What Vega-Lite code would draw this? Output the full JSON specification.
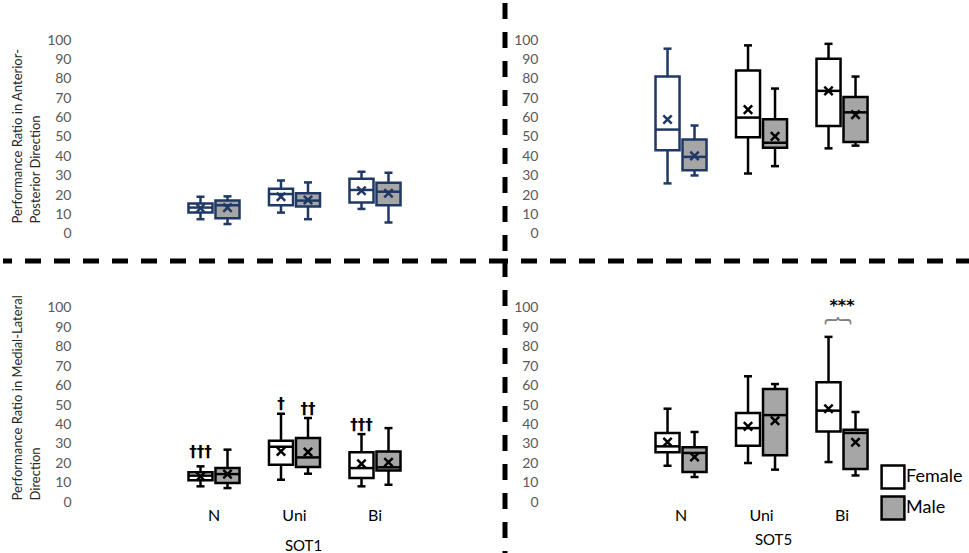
{
  "$schema": "https://vega.github.io/schema/vega-lite/v6.json",
  "padding": 0,
  "spacing": 0,
  "columns": 2,
  "bounds": "flush",
  "config": {
    "font": "Lato",
    "view": {"stroke": null},
    "axis": {"labelFont": "Lato", "titleFont": "Lato", "labelOverlap": false},
    "legend": {"labelFont": "Lato"}
  },
  "datasets": {
    "boxes": [
      {"panel": "AP1", "cond": "N", "sex": "Female", "min": 7.5, "q1": 10.9, "median": 13.5, "q3": 15.6, "max": 19.1, "mean": 13.2},
      {"panel": "AP1", "cond": "N", "sex": "Male", "min": 5.0, "q1": 8.0, "median": 14.7, "q3": 17.1, "max": 19.3, "mean": 13.5},
      {"panel": "AP1", "cond": "Uni", "sex": "Female", "min": 10.9, "q1": 14.7, "median": 20.5, "q3": 23.2, "max": 27.5, "mean": 19.1},
      {"panel": "AP1", "cond": "Uni", "sex": "Male", "min": 7.5, "q1": 14.0, "median": 17.1, "q3": 20.9, "max": 26.5, "mean": 17.4},
      {"panel": "AP1", "cond": "Bi", "sex": "Female", "min": 12.8, "q1": 16.1, "median": 22.6, "q3": 28.4, "max": 32.0, "mean": 22.2},
      {"panel": "AP1", "cond": "Bi", "sex": "Male", "min": 5.8, "q1": 14.7, "median": 21.7, "q3": 26.3, "max": 31.5, "mean": 20.9},
      {"panel": "AP5", "cond": "N", "sex": "Female", "min": 26.0, "q1": 43.1, "median": 53.8, "q3": 81.2, "max": 95.6, "mean": 59.0},
      {"panel": "AP5", "cond": "N", "sex": "Male", "min": 30.1, "q1": 32.8, "median": 39.7, "q3": 48.7, "max": 55.9, "mean": 40.2},
      {"panel": "AP5", "cond": "Uni", "sex": "Female", "min": 31.1, "q1": 49.9, "median": 60.0, "q3": 84.3, "max": 97.3, "mean": 64.1},
      {"panel": "AP5", "cond": "Uni", "sex": "Male", "min": 34.9, "q1": 44.4, "median": 47.0, "q3": 59.1, "max": 75.0, "mean": 50.3},
      {"panel": "AP5", "cond": "Bi", "sex": "Female", "min": 44.1, "q1": 55.6, "median": 73.8, "q3": 90.4, "max": 98.1, "mean": 73.8},
      {"panel": "AP5", "cond": "Bi", "sex": "Male", "min": 45.5, "q1": 47.4, "median": 62.7, "q3": 70.6, "max": 81.2, "mean": 61.5},
      {"panel": "ML1", "cond": "N", "sex": "Female", "min": 8.1, "q1": 11.2, "median": 13.6, "q3": 15.3, "max": 18.4, "mean": 13.2},
      {"panel": "ML1", "cond": "N", "sex": "Male", "min": 7.2, "q1": 9.8, "median": 14.4, "q3": 17.5, "max": 27.0, "mean": 14.4},
      {"panel": "ML1", "cond": "Uni", "sex": "Female", "min": 11.5, "q1": 19.2, "median": 28.5, "q3": 31.6, "max": 45.5, "mean": 26.1},
      {"panel": "ML1", "cond": "Uni", "sex": "Male", "min": 14.6, "q1": 18.0, "median": 23.0, "q3": 33.0, "max": 43.3, "mean": 25.8},
      {"panel": "ML1", "cond": "Bi", "sex": "Female", "min": 8.1, "q1": 12.4, "median": 17.5, "q3": 25.6, "max": 35.0, "mean": 19.7},
      {"panel": "ML1", "cond": "Bi", "sex": "Male", "min": 8.9, "q1": 16.3, "median": 17.9, "q3": 26.1, "max": 38.1, "mean": 20.5},
      {"panel": "ML5", "cond": "N", "sex": "Female", "min": 18.7, "q1": 25.6, "median": 28.7, "q3": 35.6, "max": 48.1, "mean": 30.9},
      {"panel": "ML5", "cond": "N", "sex": "Male", "min": 12.9, "q1": 15.5, "median": 25.3, "q3": 28.2, "max": 36.1, "mean": 23.2},
      {"panel": "ML5", "cond": "Uni", "sex": "Female", "min": 20.1, "q1": 29.0, "median": 38.1, "q3": 45.9, "max": 64.8, "mean": 39.0},
      {"panel": "ML5", "cond": "Uni", "sex": "Male", "min": 16.7, "q1": 24.1, "median": 44.8, "q3": 58.2, "max": 60.8, "mean": 41.9},
      {"panel": "ML5", "cond": "Bi", "sex": "Female", "min": 20.6, "q1": 36.3, "median": 47.1, "q3": 61.7, "max": 85.1, "mean": 48.1},
      {"panel": "ML5", "cond": "Bi", "sex": "Male", "min": 13.7, "q1": 17.0, "median": 35.6, "q3": 37.3, "max": 46.4, "mean": 30.8}
    ],
    "notes": [
      {"panel": "ML1", "cond": "N", "sex": "Female", "label": "†††", "y": 25.6},
      {"panel": "ML1", "cond": "Uni", "sex": "Female", "label": "†", "y": 50.7},
      {"panel": "ML1", "cond": "Uni", "sex": "Male", "label": "††", "y": 47.9},
      {"panel": "ML1", "cond": "Bi", "sex": "Female", "label": "†††", "y": 39.5}
    ],
    "sig": [
      {"panel": "ML5", "cond": "Bi", "label": "***", "y": 101}
    ],
    "brace": [
      {"panel": "ML5", "cond": "Bi", "label": "︷", "y": 97}
    ]
  },
  "resolve": {"scale": {"fill": "independent"}, "legend": {"fill": "independent"}},
  "concat": [
    {
      "width": 502,
      "height": 258,
      "resolve": {"scale": {"x": "independent"}},
      "layer": [
        {
          "data": {"name": "boxes"},
          "transform": [{"filter": "datum.panel == 'AP1'"}],
          "encoding": {
            "x": {"field": "cond", "type": "nominal", "scale": {"domain": ["p0", "N", "Uni", "Bi", "p4"], "paddingInner": 0, "paddingOuter": 0.618, "align": 0.907}, "axis": null},
            "xOffset": {"field": "sex", "type": "nominal", "scale": {"domain": ["Female", "Male"], "paddingInner": 0.11, "paddingOuter": 0.546}}
          },
          "layer": [
            {
              "mark": {"type": "rule", "strokeWidth": 2.5},
              "encoding": {
                "y": {"field": "min", "type": "quantitative", "scale": {"domain": [-14.1, 119.2], "nice": false, "zero": false},
                  "axis": {"values": [0, 10, 20, 30, 40, 50, 60, 70, 80, 90, 100], "labelOverlap": false, "offset": -80, "domain": false, "ticks": false, "grid": false, "labelPadding": 12, "labelFontSize": 14, "labelColor": "#595959", "title": ["Performance Ratio in Anterior-", "Posterior Direction"], "titleAngle": 270, "titleAlign": "left", "titleBaseline": "top", "titleX": -72, "titleY": 220, "titleFontSize": 13, "titleFontWeight": "normal", "titleColor": "#262626", "titleLineHeight": 18}},
                "y2": {"field": "max"},
                "color": {"value": "#1F3864"}
              }
            },
            {
              "mark": {"type": "bar", "strokeWidth": 2.5},
              "encoding": {
                "y": {"field": "q1", "type": "quantitative", "axis": {"values": [0, 10, 20, 30, 40, 50, 60, 70, 80, 90, 100], "labelOverlap": false, "offset": -80, "domain": false, "ticks": false, "grid": false, "labelPadding": 12, "labelFontSize": 14, "labelColor": "#595959", "title": ["Performance Ratio in Anterior-", "Posterior Direction"], "titleAngle": 270, "titleAlign": "left", "titleBaseline": "top", "titleX": -72, "titleY": 220, "titleFontSize": 13, "titleFontWeight": "normal", "titleColor": "#262626", "titleLineHeight": 18}},
                "y2": {"field": "q3"},
                "fill": {"field": "sex", "type": "nominal", "scale": {"domain": ["Female", "Male"], "range": ["#FFFFFF", "#A6A6A6"]}, "legend": null},
                "stroke": {"value": "#1F3864"}
              }
            },
            {
              "mark": {"type": "tick", "orient": "horizontal", "size": 24, "thickness": 2.5, "opacity": 1},
              "encoding": {"y": {"field": "median", "type": "quantitative", "axis": {"values": [0, 10, 20, 30, 40, 50, 60, 70, 80, 90, 100], "labelOverlap": false, "offset": -80, "domain": false, "ticks": false, "grid": false, "labelPadding": 12, "labelFontSize": 14, "labelColor": "#595959", "title": ["Performance Ratio in Anterior-", "Posterior Direction"], "titleAngle": 270, "titleAlign": "left", "titleBaseline": "top", "titleX": -72, "titleY": 220, "titleFontSize": 13, "titleFontWeight": "normal", "titleColor": "#262626", "titleLineHeight": 18}}, "color": {"value": "#1F3864"}}
            },
            {
              "mark": {"type": "tick", "orient": "horizontal", "size": 8, "thickness": 2.5, "opacity": 1},
              "encoding": {"y": {"field": "min", "type": "quantitative", "axis": {"values": [0, 10, 20, 30, 40, 50, 60, 70, 80, 90, 100], "labelOverlap": false, "offset": -80, "domain": false, "ticks": false, "grid": false, "labelPadding": 12, "labelFontSize": 14, "labelColor": "#595959", "title": ["Performance Ratio in Anterior-", "Posterior Direction"], "titleAngle": 270, "titleAlign": "left", "titleBaseline": "top", "titleX": -72, "titleY": 220, "titleFontSize": 13, "titleFontWeight": "normal", "titleColor": "#262626", "titleLineHeight": 18}}, "color": {"value": "#1F3864"}}
            },
            {
              "mark": {"type": "tick", "orient": "horizontal", "size": 8, "thickness": 2.5, "opacity": 1},
              "encoding": {"y": {"field": "max", "type": "quantitative", "axis": {"values": [0, 10, 20, 30, 40, 50, 60, 70, 80, 90, 100], "labelOverlap": false, "offset": -80, "domain": false, "ticks": false, "grid": false, "labelPadding": 12, "labelFontSize": 14, "labelColor": "#595959", "title": ["Performance Ratio in Anterior-", "Posterior Direction"], "titleAngle": 270, "titleAlign": "left", "titleBaseline": "top", "titleX": -72, "titleY": 220, "titleFontSize": 13, "titleFontWeight": "normal", "titleColor": "#262626", "titleLineHeight": 18}}, "color": {"value": "#1F3864"}}
            },
            {
              "mark": {"type": "point", "shape": "M-1,-1L1,1M1,-1L-1,1", "filled": false, "size": 70, "strokeWidth": 2.5, "opacity": 1},
              "encoding": {"y": {"field": "mean", "type": "quantitative", "axis": {"values": [0, 10, 20, 30, 40, 50, 60, 70, 80, 90, 100], "labelOverlap": false, "offset": -80, "domain": false, "ticks": false, "grid": false, "labelPadding": 12, "labelFontSize": 14, "labelColor": "#595959", "title": ["Performance Ratio in Anterior-", "Posterior Direction"], "titleAngle": 270, "titleAlign": "left", "titleBaseline": "top", "titleX": -72, "titleY": 220, "titleFontSize": 13, "titleFontWeight": "normal", "titleColor": "#262626", "titleLineHeight": 18}}, "color": {"value": "#1F3864"}}
            }
          ]
        },
        {
          "data": {"values": [{"divider": "horizontal"}]},
          "mark": {"type": "rule", "strokeDash": [16, 13], "strokeWidth": 5, "color": "black"},
          "encoding": {"y": {"datum": -14.1, "type": "quantitative", "axis": {"values": [0, 10, 20, 30, 40, 50, 60, 70, 80, 90, 100], "labelOverlap": false, "offset": -80, "domain": false, "ticks": false, "grid": false, "labelPadding": 12, "labelFontSize": 14, "labelColor": "#595959", "title": ["Performance Ratio in Anterior-", "Posterior Direction"], "titleAngle": 270, "titleAlign": "left", "titleBaseline": "top", "titleX": -72, "titleY": 220, "titleFontSize": 13, "titleFontWeight": "normal", "titleColor": "#262626", "titleLineHeight": 18}}}
        },
        {
          "data": {"values": [{"divider": "vertical"}]},
          "mark": {"type": "rule", "strokeDash": [16, 13], "strokeWidth": 5, "color": "black"},
          "encoding": {"x": {"datum": 1, "type": "quantitative", "scale": {"domain": [0, 1]}, "axis": null}}
        }
      ]
    },
    {
      "width": 467,
      "height": 258,
      "layer": [
        {
          "data": {"name": "boxes"},
          "transform": [{"filter": "datum.panel == 'AP5'"}],
          "encoding": {
            "x": {"field": "cond", "type": "nominal", "scale": {"domain": ["p0", "N", "Uni", "Bi", "p4"], "paddingInner": 0, "paddingOuter": 0.4006, "align": 0.857}, "axis": null},
            "xOffset": {"field": "sex", "type": "nominal", "scale": {"domain": ["Female", "Male"], "paddingInner": 0.11, "paddingOuter": 0.546}}
          },
          "layer": [
            {
              "mark": {"type": "rule", "strokeWidth": 2.5},
              "encoding": {
                "y": {"field": "min", "type": "quantitative", "scale": {"domain": [-14.1, 119.2], "nice": false, "zero": false},
                  "axis": {"values": [0, 10, 20, 30, 40, 50, 60, 70, 80, 90, 100], "labelOverlap": false, "offset": -46, "domain": false, "ticks": false, "grid": false, "labelPadding": 13, "labelFontSize": 14, "labelColor": "#595959", "title": null}},
                "y2": {"field": "max"},
                "color": {"condition": {"test": "datum.cond == 'N'", "value": "#1F3864"}, "value": "black"}
              }
            },
            {
              "mark": {"type": "bar", "strokeWidth": 2.5},
              "encoding": {
                "y": {"field": "q1", "type": "quantitative", "axis": {"values": [0, 10, 20, 30, 40, 50, 60, 70, 80, 90, 100], "labelOverlap": false, "offset": -46, "domain": false, "ticks": false, "grid": false, "labelPadding": 13, "labelFontSize": 14, "labelColor": "#595959", "title": null}},
                "y2": {"field": "q3"},
                "fill": {"field": "sex", "type": "nominal", "scale": {"domain": ["Female", "Male"], "range": ["#FFFFFF", "#A6A6A6"]}, "legend": null},
                "stroke": {"condition": {"test": "datum.cond == 'N'", "value": "#1F3864"}, "value": "black"}
              }
            },
            {
              "mark": {"type": "tick", "orient": "horizontal", "size": 24, "thickness": 2.5, "opacity": 1},
              "encoding": {"y": {"field": "median", "type": "quantitative", "axis": {"values": [0, 10, 20, 30, 40, 50, 60, 70, 80, 90, 100], "labelOverlap": false, "offset": -46, "domain": false, "ticks": false, "grid": false, "labelPadding": 13, "labelFontSize": 14, "labelColor": "#595959", "title": null}}, "color": {"condition": {"test": "datum.cond == 'N'", "value": "#1F3864"}, "value": "black"}}
            },
            {
              "mark": {"type": "tick", "orient": "horizontal", "size": 8, "thickness": 2.5, "opacity": 1},
              "encoding": {"y": {"field": "min", "type": "quantitative", "axis": {"values": [0, 10, 20, 30, 40, 50, 60, 70, 80, 90, 100], "labelOverlap": false, "offset": -46, "domain": false, "ticks": false, "grid": false, "labelPadding": 13, "labelFontSize": 14, "labelColor": "#595959", "title": null}}, "color": {"condition": {"test": "datum.cond == 'N'", "value": "#1F3864"}, "value": "black"}}
            },
            {
              "mark": {"type": "tick", "orient": "horizontal", "size": 8, "thickness": 2.5, "opacity": 1},
              "encoding": {"y": {"field": "max", "type": "quantitative", "axis": {"values": [0, 10, 20, 30, 40, 50, 60, 70, 80, 90, 100], "labelOverlap": false, "offset": -46, "domain": false, "ticks": false, "grid": false, "labelPadding": 13, "labelFontSize": 14, "labelColor": "#595959", "title": null}}, "color": {"condition": {"test": "datum.cond == 'N'", "value": "#1F3864"}, "value": "black"}}
            },
            {
              "mark": {"type": "point", "shape": "M-1,-1L1,1M1,-1L-1,1", "filled": false, "size": 70, "strokeWidth": 2.5, "opacity": 1},
              "encoding": {"y": {"field": "mean", "type": "quantitative", "axis": {"values": [0, 10, 20, 30, 40, 50, 60, 70, 80, 90, 100], "labelOverlap": false, "offset": -46, "domain": false, "ticks": false, "grid": false, "labelPadding": 13, "labelFontSize": 14, "labelColor": "#595959", "title": null}}, "color": {"condition": {"test": "datum.cond == 'N'", "value": "#1F3864"}, "value": "black"}}
            }
          ]
        },
        {
          "data": {"values": [{"divider": "horizontal"}]},
          "mark": {"type": "rule", "strokeDash": [16, 13], "strokeWidth": 5, "color": "black"},
          "encoding": {"y": {"datum": -14.1, "type": "quantitative", "axis": {"values": [0, 10, 20, 30, 40, 50, 60, 70, 80, 90, 100], "labelOverlap": false, "offset": -46, "domain": false, "ticks": false, "grid": false, "labelPadding": 13, "labelFontSize": 14, "labelColor": "#595959", "title": null}}}
        }
      ]
    },
    {
      "width": 502,
      "height": 295,
      "resolve": {"scale": {"x": "independent"}},
      "layer": [
        {
          "encoding": {
            "x": {"field": "cond", "type": "nominal", "scale": {"domain": ["p0", "N", "Uni", "Bi", "p4"], "paddingInner": 0, "paddingOuter": 0.618, "align": 0.907},
              "axis": {"values": ["N", "Uni", "Bi"], "orient": "bottom", "offset": -54, "domain": false, "ticks": false, "labelPadding": 5, "labelFontSize": 16, "labelColor": "black", "labelAngle": 0, "title": "SOT1", "titleFontSize": 15, "titleFontWeight": "normal", "titleColor": "black", "titleX": 300, "titleY": 43, "titleBaseline": "middle", "titleAlign": "center"}},
            "xOffset": {"field": "sex", "type": "nominal", "scale": {"domain": ["Female", "Male"], "paddingInner": 0.11, "paddingOuter": 0.546}}
          },
          "layer": [
            {
              "data": {"name": "boxes"},
              "transform": [{"filter": "datum.panel == 'ML1'"}],
              "layer": [
                {
                  "mark": {"type": "rule", "strokeWidth": 2.5},
                  "encoding": {
                    "y": {"field": "min", "type": "quantitative", "scale": {"domain": [-27.8, 124.2], "nice": false, "zero": false},
                      "axis": {"values": [0, 10, 20, 30, 40, 50, 60, 70, 80, 90, 100], "labelOverlap": false, "offset": -80, "domain": false, "ticks": false, "grid": false, "labelPadding": 12, "labelFontSize": 14, "labelColor": "#595959", "title": ["Performance Ratio in Medial-Lateral", "Direction"], "titleAngle": 270, "titleAlign": "left", "titleBaseline": "top", "titleX": -72, "titleY": 239, "titleFontSize": 13, "titleFontWeight": "normal", "titleColor": "#262626", "titleLineHeight": 18}},
                    "y2": {"field": "max"},
                    "color": {"value": "black"}
                  }
                },
                {
                  "mark": {"type": "bar", "strokeWidth": 2.5},
                  "encoding": {
                    "y": {"field": "q1", "type": "quantitative", "axis": {"values": [0, 10, 20, 30, 40, 50, 60, 70, 80, 90, 100], "labelOverlap": false, "offset": -80, "domain": false, "ticks": false, "grid": false, "labelPadding": 12, "labelFontSize": 14, "labelColor": "#595959", "title": ["Performance Ratio in Medial-Lateral", "Direction"], "titleAngle": 270, "titleAlign": "left", "titleBaseline": "top", "titleX": -72, "titleY": 239, "titleFontSize": 13, "titleFontWeight": "normal", "titleColor": "#262626", "titleLineHeight": 18}},
                    "y2": {"field": "q3"},
                    "fill": {"field": "sex", "type": "nominal", "scale": {"domain": ["Female", "Male"], "range": ["#FFFFFF", "#A6A6A6"]}, "legend": null},
                    "stroke": {"value": "black"}
                  }
                },
                {
                  "mark": {"type": "tick", "orient": "horizontal", "size": 24, "thickness": 2.5, "opacity": 1},
                  "encoding": {"y": {"field": "median", "type": "quantitative", "axis": {"values": [0, 10, 20, 30, 40, 50, 60, 70, 80, 90, 100], "labelOverlap": false, "offset": -80, "domain": false, "ticks": false, "grid": false, "labelPadding": 12, "labelFontSize": 14, "labelColor": "#595959", "title": ["Performance Ratio in Medial-Lateral", "Direction"], "titleAngle": 270, "titleAlign": "left", "titleBaseline": "top", "titleX": -72, "titleY": 239, "titleFontSize": 13, "titleFontWeight": "normal", "titleColor": "#262626", "titleLineHeight": 18}}, "color": {"value": "black"}}
                },
                {
                  "mark": {"type": "tick", "orient": "horizontal", "size": 8, "thickness": 2.5, "opacity": 1},
                  "encoding": {"y": {"field": "min", "type": "quantitative", "axis": {"values": [0, 10, 20, 30, 40, 50, 60, 70, 80, 90, 100], "labelOverlap": false, "offset": -80, "domain": false, "ticks": false, "grid": false, "labelPadding": 12, "labelFontSize": 14, "labelColor": "#595959", "title": ["Performance Ratio in Medial-Lateral", "Direction"], "titleAngle": 270, "titleAlign": "left", "titleBaseline": "top", "titleX": -72, "titleY": 239, "titleFontSize": 13, "titleFontWeight": "normal", "titleColor": "#262626", "titleLineHeight": 18}}, "color": {"value": "black"}}
                },
                {
                  "mark": {"type": "tick", "orient": "horizontal", "size": 8, "thickness": 2.5, "opacity": 1},
                  "encoding": {"y": {"field": "max", "type": "quantitative", "axis": {"values": [0, 10, 20, 30, 40, 50, 60, 70, 80, 90, 100], "labelOverlap": false, "offset": -80, "domain": false, "ticks": false, "grid": false, "labelPadding": 12, "labelFontSize": 14, "labelColor": "#595959", "title": ["Performance Ratio in Medial-Lateral", "Direction"], "titleAngle": 270, "titleAlign": "left", "titleBaseline": "top", "titleX": -72, "titleY": 239, "titleFontSize": 13, "titleFontWeight": "normal", "titleColor": "#262626", "titleLineHeight": 18}}, "color": {"value": "black"}}
                },
                {
                  "mark": {"type": "point", "shape": "M-1,-1L1,1M1,-1L-1,1", "filled": false, "size": 70, "strokeWidth": 2.5, "opacity": 1},
                  "encoding": {"y": {"field": "mean", "type": "quantitative", "axis": {"values": [0, 10, 20, 30, 40, 50, 60, 70, 80, 90, 100], "labelOverlap": false, "offset": -80, "domain": false, "ticks": false, "grid": false, "labelPadding": 12, "labelFontSize": 14, "labelColor": "#595959", "title": ["Performance Ratio in Medial-Lateral", "Direction"], "titleAngle": 270, "titleAlign": "left", "titleBaseline": "top", "titleX": -72, "titleY": 239, "titleFontSize": 13, "titleFontWeight": "normal", "titleColor": "#262626", "titleLineHeight": 18}}, "color": {"value": "black"}}
                }
              ]
            },
            {
              "data": {"name": "notes"},
              "transform": [{"filter": "datum.panel == 'ML1'"}],
              "mark": {"type": "text", "fontSize": 15, "fontWeight": "bold", "fill": "black", "baseline": "middle", "font": "DejaVu Sans"},
              "encoding": {"y": {"field": "y", "type": "quantitative", "axis": {"values": [0, 10, 20, 30, 40, 50, 60, 70, 80, 90, 100], "labelOverlap": false, "offset": -80, "domain": false, "ticks": false, "grid": false, "labelPadding": 12, "labelFontSize": 14, "labelColor": "#595959", "title": ["Performance Ratio in Medial-Lateral", "Direction"], "titleAngle": 270, "titleAlign": "left", "titleBaseline": "top", "titleX": -72, "titleY": 239, "titleFontSize": 13, "titleFontWeight": "normal", "titleColor": "#262626", "titleLineHeight": 18}}, "text": {"field": "label"}}
            }
          ]
        },
        {
          "data": {"values": [{"divider": "vertical"}]},
          "mark": {"type": "rule", "strokeDash": [16, 13], "strokeWidth": 5, "color": "black"},
          "encoding": {"x": {"datum": 1, "type": "quantitative", "scale": {"domain": [0, 1]}, "axis": null}}
        }
      ]
    },
    {
      "width": 467,
      "height": 295,
      "encoding": {
        "x": {"field": "cond", "type": "nominal", "scale": {"domain": ["p0", "N", "Uni", "Bi", "p4"], "paddingInner": 0, "paddingOuter": 0.4006, "align": 0.857},
          "axis": {"values": ["N", "Uni", "Bi"], "orient": "bottom", "offset": -54, "domain": false, "ticks": false, "labelPadding": 5, "labelFontSize": 16, "labelColor": "black", "labelAngle": 0, "title": "SOT5", "titleFontSize": 15, "titleFontWeight": "normal", "titleColor": "black", "titleX": 268, "titleY": 37, "titleBaseline": "middle", "titleAlign": "center"}}
      },
      "layer": [
        {
          "data": {"name": "boxes"},
          "transform": [{"filter": "datum.panel == 'ML5'"}],
          "encoding": {
            "xOffset": {"field": "sex", "type": "nominal", "scale": {"domain": ["Female", "Male"], "paddingInner": 0.11, "paddingOuter": 0.546}}
          },
          "layer": [
            {
              "mark": {"type": "rule", "strokeWidth": 2.5},
              "encoding": {
                "y": {"field": "min", "type": "quantitative", "scale": {"domain": [-27.8, 124.2], "nice": false, "zero": false},
                  "axis": {"values": [0, 10, 20, 30, 40, 50, 60, 70, 80, 90, 100], "labelOverlap": false, "offset": -46, "domain": false, "ticks": false, "grid": false, "labelPadding": 13, "labelFontSize": 14, "labelColor": "#595959", "title": null}},
                "y2": {"field": "max"},
                "color": {"value": "black"}
              }
            },
            {
              "mark": {"type": "bar", "strokeWidth": 2.5},
              "encoding": {
                "y": {"field": "q1", "type": "quantitative", "axis": {"values": [0, 10, 20, 30, 40, 50, 60, 70, 80, 90, 100], "labelOverlap": false, "offset": -46, "domain": false, "ticks": false, "grid": false, "labelPadding": 13, "labelFontSize": 14, "labelColor": "#595959", "title": null}},
                "y2": {"field": "q3"},
                "fill": {"field": "sex", "type": "nominal", "scale": {"domain": ["Female", "Male"], "range": ["#FFFFFF", "#A6A6A6"]},
                  "legend": {"orient": "none", "legendX": 375, "legendY": 203, "title": null, "symbolType": "square", "symbolSize": 520, "symbolStrokeColor": "black", "symbolStrokeWidth": 2.5, "symbolOpacity": 1, "labelFontSize": 18, "labelColor": "black", "labelOffset": 0, "rowPadding": -3, "padding": 0}},
                "stroke": {"value": "black"}
              }
            },
            {
              "mark": {"type": "tick", "orient": "horizontal", "size": 24, "thickness": 2.5, "opacity": 1},
              "encoding": {"y": {"field": "median", "type": "quantitative", "axis": {"values": [0, 10, 20, 30, 40, 50, 60, 70, 80, 90, 100], "labelOverlap": false, "offset": -46, "domain": false, "ticks": false, "grid": false, "labelPadding": 13, "labelFontSize": 14, "labelColor": "#595959", "title": null}}, "color": {"value": "black"}}
            },
            {
              "mark": {"type": "tick", "orient": "horizontal", "size": 8, "thickness": 2.5, "opacity": 1},
              "encoding": {"y": {"field": "min", "type": "quantitative", "axis": {"values": [0, 10, 20, 30, 40, 50, 60, 70, 80, 90, 100], "labelOverlap": false, "offset": -46, "domain": false, "ticks": false, "grid": false, "labelPadding": 13, "labelFontSize": 14, "labelColor": "#595959", "title": null}}, "color": {"value": "black"}}
            },
            {
              "mark": {"type": "tick", "orient": "horizontal", "size": 8, "thickness": 2.5, "opacity": 1},
              "encoding": {"y": {"field": "max", "type": "quantitative", "axis": {"values": [0, 10, 20, 30, 40, 50, 60, 70, 80, 90, 100], "labelOverlap": false, "offset": -46, "domain": false, "ticks": false, "grid": false, "labelPadding": 13, "labelFontSize": 14, "labelColor": "#595959", "title": null}}, "color": {"value": "black"}}
            },
            {
              "mark": {"type": "point", "shape": "M-1,-1L1,1M1,-1L-1,1", "filled": false, "size": 70, "strokeWidth": 2.5, "opacity": 1},
              "encoding": {"y": {"field": "mean", "type": "quantitative", "axis": {"values": [0, 10, 20, 30, 40, 50, 60, 70, 80, 90, 100], "labelOverlap": false, "offset": -46, "domain": false, "ticks": false, "grid": false, "labelPadding": 13, "labelFontSize": 14, "labelColor": "#595959", "title": null}}, "color": {"value": "black"}}
            }
          ]
        },
        {
          "data": {"name": "sig"},
          "mark": {"type": "text", "fontSize": 16, "fontWeight": "bold", "fill": "black", "baseline": "middle", "font": "DejaVu Sans"},
          "encoding": {"y": {"field": "y", "type": "quantitative", "axis": {"values": [0, 10, 20, 30, 40, 50, 60, 70, 80, 90, 100], "labelOverlap": false, "offset": -46, "domain": false, "ticks": false, "grid": false, "labelPadding": 13, "labelFontSize": 14, "labelColor": "#595959", "title": null}}, "text": {"field": "label"}}
        },
        {
          "data": {"name": "brace"},
          "mark": {"type": "text", "fontSize": 28, "fill": "#808080", "baseline": "middle", "font": "Noto Sans CJK SC", "dx": -4},
          "encoding": {"y": {"field": "y", "type": "quantitative", "axis": {"values": [0, 10, 20, 30, 40, 50, 60, 70, 80, 90, 100], "labelOverlap": false, "offset": -46, "domain": false, "ticks": false, "grid": false, "labelPadding": 13, "labelFontSize": 14, "labelColor": "#595959", "title": null}}, "text": {"field": "label"}}
        }
      ]
    }
  ]
}
